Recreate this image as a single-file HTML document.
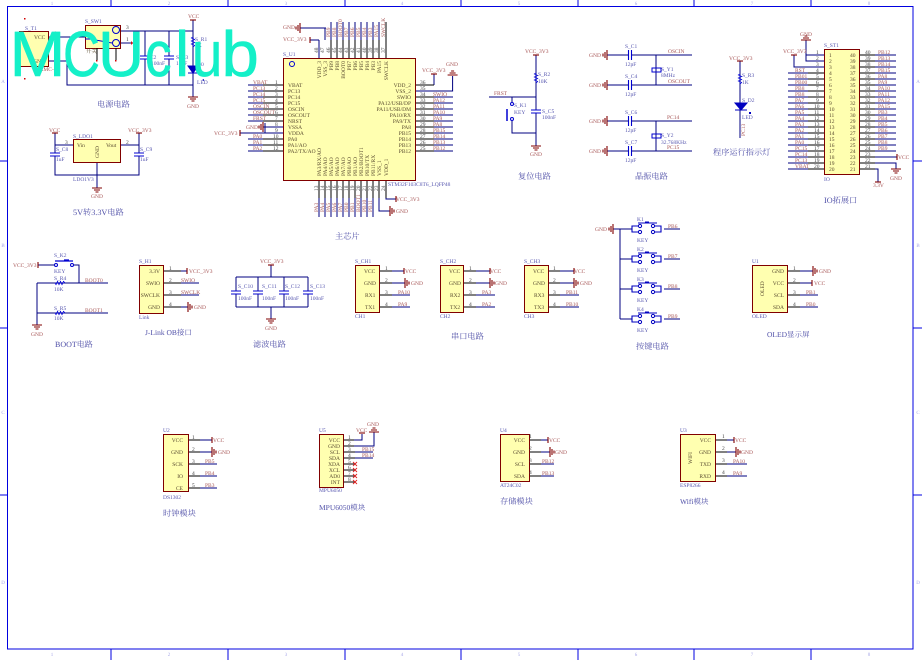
<!DOCTYPE html>
<html><head><meta charset="utf-8"><style>
html,body{margin:0;padding:0;background:#fff}
svg{display:block}
text{font-family:"Liberation Serif","Noto Serif CJK SC",serif;font-size:5.5px;text-rendering:geometricPrecision}
.n{fill:#a85858}.d{fill:#5858b0}.p{fill:#5a4c30}.k{fill:#484848}
.t{fill:#5050a8;font-size:8.2px}
.m{fill:#a8a8e8;font-size:5px;text-anchor:middle}
.e{text-anchor:end}
.box{fill:#ffffb0;stroke:#800000;stroke-width:1}
.w text{font-family:"Liberation Sans",sans-serif;font-size:64px;fill:#14f0c8;stroke:#14f0c8;stroke-width:.6px;stroke-linejoin:round}
</style></head><body>
<svg width="922" height="660" viewBox="0 0 922 660" xmlns="http://www.w3.org/2000/svg">
<defs>
<g id="gl" fill="none" stroke="#800000" stroke-width="1.1"><path d="M0,-5V5M-2,-3V3M-4,-1.5V1.5"/></g>
<g id="gr" fill="none" stroke="#800000" stroke-width="1.1"><path d="M0,-5V5M2,-3V3M4,-1.5V1.5"/></g>
<g id="gd" fill="none" stroke="#800000" stroke-width="1.1"><path d="M-5,0H5M-3,2H3M-1.5,4H1.5"/></g>
<g id="gu" fill="none" stroke="#800000" stroke-width="1.1"><path d="M-5,0H5M-3,-2H3M-1.5,-4H1.5"/></g>
<path id="tv" d="M-3,0H3" stroke="#800000" stroke-width="1.1"/>
<path id="th" d="M0,-3V3" stroke="#800000" stroke-width="1.1"/>
<g id="cv"><rect x="-5" y="0" width="10" height="3" fill="#fff"/><path d="M-5,0H5M-5,3H5" stroke="#0000d0" stroke-width="1.1"/></g>
<g id="ch"><rect x="0" y="-5" width="3" height="10" fill="#fff"/><path d="M0,-5V5M3,-5V5" stroke="#0000d0" stroke-width="1.1"/></g>
<path id="rv" d="M0,-5L-1.5,-4L1.5,-2.5L-1.5,-1L1.5,.5L-1.5,2L1.5,3.5L0,5" fill="#fff" stroke="#0000d0" stroke-width=".9"/>
<path id="rh" d="M-5,0L-4,1.5L-2.5,-1.5L-1,1.5L.5,-1.5L2,1.5L3.5,-1.5L5,0" fill="#fff" stroke="#0000d0" stroke-width=".9"/>
<g id="key" fill="none" stroke="#0000c0" stroke-width="1"><circle cx="0" cy="-3" r="1.6" fill="#fff"/><circle cx="13" cy="-3" r="1.6" fill="#fff"/><circle cx="0" cy="3" r="1.6" fill="#fff"/><circle cx="13" cy="3" r="1.6" fill="#fff"/><path d="M-2,-6H17M5,-7H9M-1.5,-3H-8V3H-1.5M14.5,-3H21V3H14.5" stroke-width="1.1"/></g>
<path id="x" d="M-2,-2L2,2M-2,2L2,-2" stroke="#e02020" stroke-width=".9"/>
</defs>

<!-- frame -->
<rect x="7.5" y="6.5" width="905.5" height="642.5" fill="none" stroke="#0000e0" stroke-width="1"/>
<path d="M111,0V6M228,0V6M345,0V6M461,0V6M578,0V6M694,0V6M811,0V6M111,649V660M228,649V660M345,649V660M461,649V660M578,649V660M694,649V660M811,649V660M0,161H7M0,328H7M0,495H7M913,161H922M913,328H922M913,495H922" stroke="#0000e0" stroke-width="1" fill="none"/>
<text class="m" x="52" y="5">1</text><text class="m" x="169" y="5">2</text><text class="m" x="286" y="5">3</text><text class="m" x="402" y="5">4</text><text class="m" x="519" y="5">5</text><text class="m" x="636" y="5">6</text><text class="m" x="752" y="5">7</text><text class="m" x="869" y="5">8</text>
<text class="m" x="52" y="656">1</text><text class="m" x="169" y="656">2</text><text class="m" x="286" y="656">3</text><text class="m" x="402" y="656">4</text><text class="m" x="519" y="656">5</text><text class="m" x="636" y="656">6</text><text class="m" x="752" y="656">7</text><text class="m" x="869" y="656">8</text>
<text class="m" x="3" y="83">A</text><text class="m" x="3" y="247">B</text><text class="m" x="3" y="414">C</text><text class="m" x="3" y="584">D</text>
<text class="m" x="918" y="83">A</text><text class="m" x="918" y="247">B</text><text class="m" x="918" y="414">C</text><text class="m" x="918" y="584">D</text>

<!-- wires -->
<path fill="none" stroke="#000080" stroke-width="1" d="
M48,37H85M48,61H67V85H193M120,31H193V97M120,43H133M145,31V85M169,31V85M193,20V31
M55,133V175H139V133M55,145H73M120,145H139M97,162V188
M326,28H300M319,40H310M319,22V22
M331,22V40M337,22V40M343,22V40M349,22V40M355,22V40M361,22V40M367,22V40M373,22V40M379,22V40M386,22V40
M319,40V58M325,28V40
M319,198V217M325,198V217M331,198V217M337,198V217M343,198V217M349,198V217M355,198V217M361,198V217M367,198V217M373,198V217
M379,198V211H390M386,198V199H396
M248,85H263M248,91H263M248,97H263M248,103H263M248,109H263M248,115H263M248,121H263M248,139H263M248,145H263M248,151H263
M434,97H453M434,103H453M434,109H453M434,115H453M434,121H453M434,127H453M434,133H453M434,139H453M434,145H453M434,151H453
M434,85V74M415,91H452.600V76M263,127H283M240,133H283M265,123V133
M536,55V146M489,97H536M512,97V102M512,121V133H536
M607,55H692M607,85H692M607,121H692M607,151H692M656,55V85M656,121V151
M740,61V138
M806,40V61H824M806,55H824M794,55V67H824
M788,73H808M788,79H808M788,85H808M788,91H808M788,97H808M788,103H808M788,109H808M788,115H808M788,121H808M788,127H808M788,133H808M788,139H808M788,145H808M788,151H808M788,157H808M788,163H808M788,169H808
M875,55H896M875,61H896M875,67H896M875,73H896M875,79H896M875,85H896M875,91H896M875,97H896M875,103H896M875,109H896M875,115H896M875,121H896M875,127H896M875,133H896M875,139H896M875,145H896M875,151H896
M875,157H897M875,163H896V169M875,169H878V182
M38,265H55M73,265H79V283M37,283H108M37,313H108M37,283V325
M181,283H199M181,295H199M181,271H187M181,307H188
M236,277H308M236,307H308M236,277V307M258,277V307M284,277V307M308,277V307M271,265V277M271,307V319
M392,295H410M392,307H410M476,295H495M476,307H495M560,295H579M560,307H579
M392,271H404M392,283H405M476,271H490M476,283H490M560,271H574M560,283H574
M620,229V319M613,229H632M620,259H632M620,289H632M620,319H632M664,229H680M664,259H680M664,289H680M664,319H680
M800,295H818M800,307H818M800,271H813M800,283H812
M200,464H217M200,476H217M200,488H217M200,440H212M200,452H212
M355,452H373M355,458H373M354,440H362V434M354,446H374V432
M541,464H554M541,476H554M541,440H548M541,452H550
M727,464H747M727,476H747M727,440H734M727,452H736
"/>
<!-- pins -->
<path fill="none" stroke="#000" stroke-width="1" d="
M263,85H283M263,91H283M263,97H283M263,103H283M263,109H283M263,115H283M263,121H283M263,139H283M263,145H283M263,151H283
M415,85H434M415,97H434M415,103H434M415,109H434M415,115H434M415,121H434M415,127H434M415,133H434M415,139H434M415,145H434M415,151H434
M331,40V58M337,40V58M343,40V58M349,40V58M355,40V58M361,40V58M367,40V58M373,40V58M379,40V58M386,22V58
M319,180V198M325,180V198M331,180V198M337,180V198M343,180V198M349,180V198M355,180V198M361,180V198M367,180V198M373,180V198M379,180V198M386,180V198
M808,73H824M808,79H824M808,85H824M808,91H824M808,97H824M808,103H824M808,109H824M808,115H824M808,121H824M808,127H824M808,133H824M808,139H824M808,145H824M808,151H824M808,157H824M808,163H824M808,169H824
M859,55H875M859,61H875M859,67H875M859,73H875M859,79H875M859,85H875M859,91H875M859,97H875M859,103H875M859,109H875M859,115H875M859,121H875M859,127H875M859,133H875M859,139H875M859,145H875M859,151H875M859,157H875M859,163H875M859,169H875
M163,271H181M163,283H181M163,295H181M163,307H181
M379,271H392M379,283H392M379,295H392M379,307H392
M463,271H476M463,283H476M463,295H476M463,307H476
M548,271H560M548,283H560M548,295H560M548,307H560
M787,271H800M787,283H800M787,295H800M787,307H800
M188,440H200M188,452H200M188,464H200M188,476H200M188,488H200
M343,440H354M343,446H354M343,452H355M343,458H355M343,464H355M343,470H355M343,476H355M343,482H355
M529,440H541M529,452H541M529,464H541M529,476H541
M715,440H727M715,452H727M715,464H727M715,476H727
M97,48V60M116,48V60
"/>

<!-- boxes -->
<rect class="box" x="19.500" y="31.500" width="29" height="35"/>
<rect class="box" x="85.500" y="25.500" width="35" height="23"/>
<rect class="box" x="73.500" y="139.500" width="47" height="23"/>
<rect class="box" x="283.500" y="58.500" width="132" height="122"/>
<rect class="box" x="824.500" y="49.500" width="35" height="125"/>
<rect class="box" x="139.500" y="265.500" width="24" height="48"/>
<rect class="box" x="355.500" y="265.500" width="24" height="47"/>
<rect class="box" x="440.500" y="265.500" width="23" height="47"/>
<rect class="box" x="524.500" y="265.500" width="24" height="47"/>
<rect class="box" x="752.500" y="265.500" width="35" height="47"/>
<rect class="box" x="163.500" y="434.500" width="25" height="57"/>
<rect class="box" x="319.500" y="434.500" width="24" height="53"/>
<rect class="box" x="500.500" y="434.500" width="29" height="47"/>
<rect class="box" x="680.500" y="434.500" width="35" height="47"/>

<!-- symbols -->
<g fill="none" stroke="#0000d0" stroke-width="1">
<circle cx="116" cy="30" r="3.500"/><circle cx="116" cy="43" r="3.500"/><path d="M85,39H90L112,43M89,38L92,40"/>
<circle cx="292" cy="64" r="2.500"/>
<circle cx="512" cy="104" r="1.500"/><circle cx="512" cy="119" r="1.500"/><path d="M507,109V121" stroke-width="1.500"/>
<circle cx="56" cy="265" r="1.500"/><circle cx="72" cy="265" r="1.500"/><path d="M55,261H73M64,260H69" stroke-width="1.300"/>
<rect x="652" y="68" width="9" height="4"/><rect x="652" y="134" width="9" height="4"/>
</g>
<path d="M97,48V60M116,48V60" stroke="#000" stroke-width="1"/>
<path d="M133,43l-2,-2v4z" fill="#d01010"/>
<path d="M188,66H198L193,73zM188,73H198" fill="#0000c0" stroke="#0000c0" stroke-width="1"/>
<path d="M735,103H747L741,110zM735,110H747" fill="#0000c0" stroke="#0000c0" stroke-width="1"/>
<path d="M202,80l2,-1v2zM749,112h2v2h-2z" fill="#0000c0"/>
<g fill="#d00000"><rect x="24" y="18" width="1.500" height="1.500"/><rect x="24" y="78" width="1.500" height="1.500"/><rect x="96" y="60" width="1.500" height="1.500"/><rect x="115" y="60" width="1.500" height="1.500"/></g>

<use href="#rv" x="193" y="42"/><use href="#cv" x="145" y="56"/><use href="#cv" x="169" y="56"/><use href="#gd" x="193" y="97"/>
<use href="#tv" x="193" y="20"/>
<use href="#tv" x="55" y="133"/><use href="#tv" x="139" y="133"/><use href="#cv" x="55" y="153"/><use href="#cv" x="139" y="153"/><use href="#gd" x="97" y="188"/>
<use href="#gl" x="300" y="28"/><use href="#th" x="310" y="40"/><use href="#gl" x="263" y="127"/><use href="#th" x="240" y="133"/>
<use href="#tv" x="434" y="74"/><use href="#gu" x="452.600" y="75"/><use href="#gr" x="390" y="211"/><use href="#th" x="396" y="199"/>
<use href="#tv" x="536" y="55"/><use href="#rv" x="536" y="78"/><use href="#cv" x="536" y="110"/><use href="#gd" x="536" y="146"/>
<use href="#gl" x="607" y="55"/><use href="#gl" x="607" y="85"/><use href="#gl" x="607" y="121"/><use href="#gl" x="607" y="151"/>
<use href="#ch" x="628.500" y="55"/><use href="#ch" x="628.500" y="85"/><use href="#ch" x="628.500" y="121"/><use href="#ch" x="628.500" y="151"/>
<use href="#tv" x="740" y="61"/><use href="#rv" x="740" y="79"/>
<use href="#gu" x="806" y="40"/><use href="#tv" x="794" y="55"/><use href="#th" x="897" y="157"/><use href="#gd" x="896" y="169"/><use href="#tv" x="878" y="182"/>
<use href="#th" x="38" y="265"/><use href="#rh" x="60" y="283"/><use href="#rh" x="60" y="313"/><use href="#gd" x="37" y="325"/>
<use href="#th" x="187" y="271"/><use href="#gr" x="188" y="307"/>
<use href="#tv" x="271" y="265"/><use href="#gd" x="271" y="319"/><use href="#cv" x="236" y="291"/><use href="#cv" x="258" y="291"/><use href="#cv" x="284" y="291"/><use href="#cv" x="308" y="291"/>
<use href="#th" x="404" y="271"/><use href="#gr" x="405" y="283"/>
<use href="#th" x="490" y="271"/><use href="#gr" x="490" y="283"/>
<use href="#th" x="574" y="271"/><use href="#gr" x="574" y="283"/>
<use href="#gl" x="613" y="229"/><use href="#key" x="640" y="229"/><use href="#key" x="640" y="259"/><use href="#key" x="640" y="289"/><use href="#key" x="640" y="319"/>
<use href="#gr" x="813" y="271"/><use href="#th" x="812" y="283"/>
<use href="#th" x="212" y="440"/><use href="#gr" x="212" y="452"/>
<use href="#tv" x="362" y="433"/><use href="#gu" x="374" y="432"/>
<use href="#x" x="355" y="464"/><use href="#x" x="355" y="470"/><use href="#x" x="355" y="476"/><use href="#x" x="355" y="482"/>
<use href="#th" x="548" y="440"/><use href="#gr" x="550" y="452"/>
<use href="#th" x="734" y="440"/><use href="#gr" x="736" y="452"/>

<!-- power -->
<text class="d" x="25" y="30">S_T1</text><text class="p" x="34" y="39">VCC</text><text class="p" x="33" y="63">GND</text><text class="n" x="33" y="71">TERMC-2P</text>
<text class="k" x="54" y="35">1</text><text class="k" x="78" y="35">2</text>
<text class="d" x="85" y="23">S_SW1</text><text class="p" x="86" y="53">开关</text><text class="k" x="126" y="29">3</text><text class="k" x="126" y="41">1</text>
<text class="n" x="188" y="18">VCC</text><text class="d" x="195" y="41">S_R1</text><text class="d" x="195" y="47">1K</text><text class="d" x="197" y="66">D0</text><text class="d" x="197" y="84">LED</text>
<text class="n" x="187" y="108">GND</text>
<text class="d" x="150" y="59">C2</text><text class="d" x="151" y="65">100nF</text><text class="d" x="176" y="59">S_C3</text><text class="d" x="176" y="65">10uF</text>
<text class="t" x="97" y="107">电源电路</text>
<!-- LDO -->
<text class="n" x="49" y="132">VCC</text><text class="n" x="128" y="132">VCC_3V3</text><text class="d" x="73" y="138">S_LDO1</text>
<text class="p" x="77" y="147">Vin</text><text class="p" x="106" y="147">Vout</text><text class="p" transform="rotate(-90 99 158)" x="99" y="158">GND</text>
<text class="k" x="65" y="144">3</text><text class="k" x="126" y="144">2</text>
<text class="d" x="56" y="151">S_C8</text><text class="d" x="56" y="161">1uF</text><text class="d" x="140" y="151">S_C9</text><text class="d" x="140" y="161">1uF</text>
<text class="d" x="73" y="181">LDO1V3</text><text class="n" x="91" y="198">GND</text>
<text class="t" x="73" y="215">5V转3.3V电路</text>

<!-- MCU left -->
<text class="d" x="283" y="56">S_U1</text>
<text class="n" x="253" y="84">VBAT</text><text class="n" x="253" y="90">PC13</text><text class="n" x="253" y="96">PC14</text><text class="n" x="253" y="102">PC15</text><text class="n" x="253" y="108">OSCIN</text><text class="n" x="253" y="114">OSCOUT</text><text class="n" x="253" y="120">FRST</text><text class="n" x="246" y="129">GND</text><text class="n" x="214" y="135">VCC_3V3</text><text class="n" x="253" y="138">PA0</text><text class="n" x="253" y="144">PA1</text><text class="n" x="253" y="150">PA2</text>
<g class="k"><text x="275" y="84">1</text><text x="275" y="90">2</text><text x="275" y="96">3</text><text x="275" y="102">4</text><text x="275" y="108">5</text><text x="275" y="114">6</text><text x="275" y="120">7</text><text x="275" y="126">8</text><text x="275" y="132">9</text><text x="273" y="138">10</text><text x="273" y="144">11</text><text x="273" y="150">12</text></g>
<g class="p"><text x="288" y="87">VBAT</text><text x="288" y="93">PC13</text><text x="288" y="99">PC14</text><text x="288" y="105">PC15</text><text x="288" y="111">OSCIN</text><text x="288" y="117">OSCOUT</text><text x="288" y="123">NRST</text><text x="288" y="129">VSSA</text><text x="288" y="135">VDDA</text><text x="288" y="141">PA0</text><text x="288" y="147">PA1/AO</text><text x="288" y="153">PA2/TX/AO</text></g>
<!-- MCU right -->
<g class="p"><text class="e" x="411" y="87">VDD_2</text><text class="e" x="411" y="93">VSS_2</text><text class="e" x="411" y="99">SWIO</text><text class="e" x="411" y="105">PA12/USB/DP</text><text class="e" x="411" y="111">PA11/USB/DM</text><text class="e" x="411" y="117">PA10/RX</text><text class="e" x="411" y="123">PA9/TX</text><text class="e" x="411" y="129">PA8</text><text class="e" x="411" y="135">PB15</text><text class="e" x="411" y="141">PB14</text><text class="e" x="411" y="147">PB13</text><text class="e" x="411" y="153">PB12</text></g>
<g class="k"><text x="420" y="84">36</text><text x="420" y="90">35</text><text x="420" y="96">34</text><text x="420" y="102">33</text><text x="420" y="108">32</text><text x="420" y="114">31</text><text x="420" y="120">30</text><text x="420" y="126">29</text><text x="420" y="132">28</text><text x="420" y="138">27</text><text x="420" y="144">26</text><text x="420" y="150">25</text></g>
<g class="n"><text x="433" y="96">SWIO</text><text x="433" y="102">PA12</text><text x="433" y="108">PA11</text><text x="433" y="114">PA10</text><text x="433" y="120">PA9</text><text x="433" y="126">PA8</text><text x="433" y="132">PB15</text><text x="433" y="138">PB14</text><text x="433" y="144">PB13</text><text x="433" y="150">PB12</text>
<text x="422" y="72">VCC_3V3</text><text x="446" y="66">GND</text><text x="283" y="29">GND</text><text x="283" y="41">VCC_3V3</text><text x="396" y="201">VCC_3V3</text><text x="396" y="213">GND</text></g>
<text class="d" x="388" y="186">STM32F103C8T6_LQFP48</text>
<!-- MCU top inner -->
<g class="p">
<text transform="rotate(-90 321 61)" x="321" y="61" text-anchor="end">VDD_3</text><text transform="rotate(-90 327 61)" x="327" y="61" text-anchor="end">VSS_3</text><text transform="rotate(-90 333 61)" x="333" y="61" text-anchor="end">PB9</text><text transform="rotate(-90 339 61)" x="339" y="61" text-anchor="end">PB8</text><text transform="rotate(-90 345 61)" x="345" y="61" text-anchor="end">BOOT0</text><text transform="rotate(-90 351 61)" x="351" y="61" text-anchor="end">PB7</text><text transform="rotate(-90 357 61)" x="357" y="61" text-anchor="end">PB6</text><text transform="rotate(-90 363 61)" x="363" y="61" text-anchor="end">PB5</text><text transform="rotate(-90 369 61)" x="369" y="61" text-anchor="end">PB4</text><text transform="rotate(-90 375 61)" x="375" y="61" text-anchor="end">PB3</text><text transform="rotate(-90 381 61)" x="381" y="61" text-anchor="end">PA15</text><text transform="rotate(-90 388 61)" x="388" y="61" text-anchor="end">SWCLK</text>
<text transform="rotate(-90 321 176)" x="321" y="176">PA3/RX/AO</text><text transform="rotate(-90 327 176)" x="327" y="176">PA4/AO</text><text transform="rotate(-90 333 176)" x="333" y="176">PA5/AO</text><text transform="rotate(-90 339 176)" x="339" y="176">PA6/AO</text><text transform="rotate(-90 345 176)" x="345" y="176">PA7/AO</text><text transform="rotate(-90 351 176)" x="351" y="176">PB0/AO</text><text transform="rotate(-90 357 176)" x="357" y="176">PB1/AO</text><text transform="rotate(-90 363 176)" x="363" y="176">PB2/BOOT1</text><text transform="rotate(-90 369 176)" x="369" y="176">PB10/TX</text><text transform="rotate(-90 375 176)" x="375" y="176">PB11/RX</text><text transform="rotate(-90 381 176)" x="381" y="176">VSS_1</text><text transform="rotate(-90 388 176)" x="388" y="176">VDD_1</text>
</g>
<g class="n">
<text transform="rotate(-90 330 37)" x="330" y="37">PB9</text><text transform="rotate(-90 336 37)" x="336" y="37">PB8</text><text transform="rotate(-90 342 37)" x="342" y="37">BOOT0</text><text transform="rotate(-90 348 37)" x="348" y="37">PB7</text><text transform="rotate(-90 354 37)" x="354" y="37">PB6</text><text transform="rotate(-90 360 37)" x="360" y="37">PB5</text><text transform="rotate(-90 366 37)" x="366" y="37">PB4</text><text transform="rotate(-90 372 37)" x="372" y="37">PB3</text><text transform="rotate(-90 378 37)" x="378" y="37">PA15</text><text transform="rotate(-90 385 37)" x="385" y="37">SWCLK</text>
<text transform="rotate(-90 318 212)" x="318" y="212">PA3</text><text transform="rotate(-90 324 212)" x="324" y="212">PA4</text><text transform="rotate(-90 330 212)" x="330" y="212">PA5</text><text transform="rotate(-90 336 212)" x="336" y="212">PA6</text><text transform="rotate(-90 342 212)" x="342" y="212">PA7</text><text transform="rotate(-90 348 212)" x="348" y="212">PB0</text><text transform="rotate(-90 354 212)" x="354" y="212">PB1</text><text transform="rotate(-90 360 212)" x="360" y="212">BOOT1</text><text transform="rotate(-90 366 212)" x="366" y="212">PB10</text><text transform="rotate(-90 372 212)" x="372" y="212">PB11</text>
</g>
<g class="k">
<text transform="rotate(-90 318 53)" x="318" y="53">48</text><text transform="rotate(-90 324 53)" x="324" y="53">47</text><text transform="rotate(-90 330 53)" x="330" y="53">46</text><text transform="rotate(-90 336 53)" x="336" y="53">45</text><text transform="rotate(-90 342 53)" x="342" y="53">44</text><text transform="rotate(-90 348 53)" x="348" y="53">43</text><text transform="rotate(-90 354 53)" x="354" y="53">42</text><text transform="rotate(-90 360 53)" x="360" y="53">41</text><text transform="rotate(-90 366 53)" x="366" y="53">40</text><text transform="rotate(-90 372 53)" x="372" y="53">39</text><text transform="rotate(-90 378 53)" x="378" y="53">38</text><text transform="rotate(-90 385 53)" x="385" y="53">37</text>
<text transform="rotate(-90 318 191)" x="318" y="191">13</text><text transform="rotate(-90 324 191)" x="324" y="191">14</text><text transform="rotate(-90 330 191)" x="330" y="191">15</text><text transform="rotate(-90 336 191)" x="336" y="191">16</text><text transform="rotate(-90 342 191)" x="342" y="191">17</text><text transform="rotate(-90 348 191)" x="348" y="191">18</text><text transform="rotate(-90 354 191)" x="354" y="191">19</text><text transform="rotate(-90 360 191)" x="360" y="191">20</text><text transform="rotate(-90 366 191)" x="366" y="191">21</text><text transform="rotate(-90 372 191)" x="372" y="191">22</text><text transform="rotate(-90 378 191)" x="378" y="191">23</text><text transform="rotate(-90 385 191)" x="385" y="191">24</text>
</g>
<text class="t" x="335" y="239">主芯片</text>

<!-- reset -->
<text class="n" x="525" y="53">VCC_3V3</text><text class="d" x="538" y="76">S_R2</text><text class="d" x="538" y="83">10K</text><text class="n" x="494" y="95">FRST</text><text class="d" x="514" y="107">S_K1</text><text class="d" x="514" y="114">KEY</text><text class="d" x="542" y="113">S_C5</text><text class="d" x="542" y="119">100nF</text><text class="n" x="530" y="156">GND</text>
<text class="t" x="518" y="179">复位电路</text>
<!-- crystal -->
<g class="n"><text x="589" y="57">GND</text><text x="589" y="87">GND</text><text x="589" y="123">GND</text><text x="589" y="153">GND</text><text x="668" y="53">OSCIN</text><text x="668" y="83">OSCOUT</text><text x="667" y="119">PC14</text><text x="667" y="149">PC15</text></g>
<g class="d"><text x="625" y="48">S_C1</text><text x="625" y="66">12pF</text><text x="625" y="78">S_C4</text><text x="625" y="96">12pF</text><text x="625" y="114">S_C6</text><text x="625" y="132">12pF</text><text x="625" y="144">S_C7</text><text x="625" y="162">12pF</text><text x="661" y="71">S_Y1</text><text x="661" y="77">8MHz</text><text x="661" y="137">S_Y2</text><text x="661" y="144">32.768KHz</text></g>
<text class="t" x="635" y="179">晶振电路</text>
<!-- LED -->
<text class="n" x="729" y="60">VCC_3V3</text><text class="d" x="742" y="77">S_R3</text><text class="d" x="742" y="84">1K</text><text class="d" x="742" y="102">S_D2</text><text class="d" x="742" y="119">LED</text><text class="n" transform="rotate(-90 745 136)" x="745" y="136">PC13</text>
<text class="t" x="713" y="155">程序运行指示灯</text>

<!-- IO -->
<text class="d" x="824" y="47">S_ST1</text><text class="d" x="824" y="181">IO</text><text class="n" x="800" y="36">GND</text><text class="n" x="783" y="53">VCC_3V3</text>
<g class="p"><text x="829" y="57">1</text><text x="829" y="63">2</text><text x="829" y="69">3</text><text x="829" y="75">4</text><text x="829" y="81">5</text><text x="829" y="87">6</text><text x="829" y="93">7</text><text x="829" y="99">8</text><text x="829" y="105">9</text><text x="829" y="111">10</text><text x="829" y="117">11</text><text x="829" y="123">12</text><text x="829" y="129">13</text><text x="829" y="135">14</text><text x="829" y="141">15</text><text x="829" y="147">16</text><text x="829" y="153">17</text><text x="829" y="159">18</text><text x="829" y="165">19</text><text x="829" y="171">20</text>
<text x="850" y="57">40</text><text x="850" y="63">39</text><text x="850" y="69">38</text><text x="850" y="75">37</text><text x="850" y="81">36</text><text x="850" y="87">35</text><text x="850" y="93">34</text><text x="850" y="99">33</text><text x="850" y="105">32</text><text x="850" y="111">31</text><text x="850" y="117">30</text><text x="850" y="123">29</text><text x="850" y="129">28</text><text x="850" y="135">27</text><text x="850" y="141">26</text><text x="850" y="147">25</text><text x="850" y="153">24</text><text x="850" y="159">23</text><text x="850" y="165">22</text><text x="850" y="171">21</text></g>
<g class="k"><text x="816" y="54">1</text><text x="816" y="60">2</text><text x="816" y="66">3</text><text x="816" y="72">4</text><text x="816" y="78">5</text><text x="816" y="84">6</text><text x="816" y="90">7</text><text x="816" y="96">8</text><text x="816" y="102">9</text><text x="814" y="108">10</text><text x="814" y="114">11</text><text x="814" y="120">12</text><text x="814" y="126">13</text><text x="814" y="132">14</text><text x="814" y="138">15</text><text x="814" y="144">16</text><text x="814" y="150">17</text><text x="814" y="156">18</text><text x="814" y="162">19</text><text x="814" y="168">20</text>
<text x="865" y="54">40</text><text x="865" y="60">39</text><text x="865" y="66">38</text><text x="865" y="72">37</text><text x="865" y="78">36</text><text x="865" y="84">35</text><text x="865" y="90">34</text><text x="865" y="96">33</text><text x="865" y="102">32</text><text x="865" y="108">31</text><text x="865" y="114">30</text><text x="865" y="120">29</text><text x="865" y="126">28</text><text x="865" y="132">27</text><text x="865" y="138">26</text><text x="865" y="144">25</text><text x="865" y="150">24</text><text x="865" y="156">23</text><text x="865" y="162">22</text><text x="865" y="168">21</text></g>
<g class="n"><text x="795" y="72">RST</text><text x="795" y="78">PB01</text><text x="795" y="84">PB00</text><text x="795" y="90">PB8</text><text x="795" y="96">PB8</text><text x="795" y="102">PA7</text><text x="795" y="108">PA6</text><text x="795" y="114">PA5</text><text x="795" y="120">PA4</text><text x="795" y="126">PA3</text><text x="795" y="132">PA2</text><text x="795" y="138">PA1</text><text x="795" y="144">PA0</text><text x="795" y="150">PC15</text><text x="795" y="156">PC14</text><text x="795" y="162">PC13</text><text x="795" y="168">VBAT</text>
<text x="878" y="54">PB12</text><text x="878" y="60">PB13</text><text x="878" y="66">PB14</text><text x="878" y="72">PB15</text><text x="878" y="78">PA8</text><text x="878" y="84">PA9</text><text x="878" y="90">PA10</text><text x="878" y="96">PA11</text><text x="878" y="102">PA12</text><text x="878" y="108">PA15</text><text x="878" y="114">PB3</text><text x="878" y="120">PB4</text><text x="878" y="126">PB5</text><text x="878" y="132">PB6</text><text x="878" y="138">PB7</text><text x="878" y="144">PB8</text><text x="878" y="150">PB9</text>
<text x="898" y="159">VCC</text><text x="890" y="180">GND</text><text x="873" y="187">3.3V</text></g>
<text class="t" x="824" y="203">IO拓展口</text>

<!-- BOOT -->
<text class="n" x="13" y="267">VCC_3V3</text><text class="d" x="54" y="257">S_K2</text><text class="d" x="54" y="273">KEY</text><text class="d" x="54" y="280">S_R4</text><text class="d" x="54" y="291">10K</text><text class="d" x="54" y="310">S_R5</text><text class="d" x="54" y="320">10K</text><text class="n" x="85" y="282">BOOT0</text><text class="n" x="85" y="312">BOOT1</text><text class="n" x="31" y="336">GND</text>
<text class="t" x="55" y="347" style="font-size:8px">BOOT电路</text>
<!-- JLINK -->
<text class="d" x="139" y="263">S_H1</text><text class="d" x="139" y="319">Link</text>
<g class="p"><text class="e" x="160" y="273">3.3V</text><text class="e" x="160" y="285">SWIO</text><text class="e" x="160" y="297">SWCLK</text><text class="e" x="160" y="309">GND</text></g>
<g class="k"><text x="169" y="270">1</text><text x="169" y="282">2</text><text x="169" y="294">3</text><text x="169" y="306">4</text></g>
<g class="n"><text x="189" y="273">VCC_3V3</text><text x="181" y="282">SWIO</text><text x="181" y="294">SWCLK</text><text x="194" y="309">GND</text></g>
<text class="t" x="145" y="335" style="font-size:7.500px">J-Link OB接口</text>
<!-- filter -->
<text class="n" x="260" y="263">VCC_3V3</text><text class="n" x="265" y="330">GND</text>
<g class="d"><text x="238" y="288">S_C10</text><text x="262" y="288">S_C11</text><text x="285" y="288">S_C12</text><text x="310" y="288">S_C13</text><text x="238" y="300">100nF</text><text x="262" y="300">100nF</text><text x="285" y="300">100nF</text><text x="310" y="300">100nF</text></g>
<text class="t" x="253" y="347">滤波电路</text>
<!-- serial -->
<text class="d" x="355" y="263">S_CH1</text><text class="d" x="355" y="318">CH1</text><text class="d" x="440" y="263">S_CH2</text><text class="d" x="440" y="318">CH2</text><text class="d" x="524" y="263">S_CH3</text><text class="d" x="524" y="318">CH3</text>
<g class="p"><text x="364" y="273">VCC</text><text x="364" y="285">GND</text><text x="365" y="297">RX1</text><text x="365" y="309">TX1</text><text x="449" y="273">VCC</text><text x="449" y="285">GND</text><text x="450" y="297">RX2</text><text x="450" y="309">TX2</text><text x="533" y="273">VCC</text><text x="533" y="285">GND</text><text x="534" y="297">RX3</text><text x="534" y="309">TX3</text></g>
<g class="k"><text x="385" y="270">1</text><text x="385" y="282">2</text><text x="385" y="294">3</text><text x="385" y="306">4</text><text x="469" y="270">1</text><text x="469" y="282">2</text><text x="469" y="294">3</text><text x="469" y="306">4</text><text x="553" y="270">1</text><text x="553" y="282">2</text><text x="553" y="294">3</text><text x="553" y="306">4</text></g>
<g class="n"><text x="405" y="273">VCC</text><text x="411" y="285">GND</text><text x="398" y="294">PA10</text><text x="398" y="306">PA9</text><text x="490" y="273">VCC</text><text x="495" y="285">GND</text><text x="482" y="294">PA3</text><text x="482" y="306">PA2</text><text x="574" y="273">VCC</text><text x="580" y="285">GND</text><text x="566" y="294">PB11</text><text x="566" y="306">PB10</text></g>
<text class="t" x="451" y="339">串口电路</text>
<!-- keys -->
<text class="n" x="595" y="231">GND</text>
<g class="d"><text x="637" y="221">K1</text><text x="637" y="242">KEY</text><text x="637" y="251">K2</text><text x="637" y="272">KEY</text><text x="637" y="281">K3</text><text x="637" y="302">KEY</text><text x="637" y="311">K4</text><text x="637" y="332">KEY</text></g>
<g class="n"><text x="668" y="228">PB6</text><text x="668" y="258">PB7</text><text x="668" y="288">PB8</text><text x="668" y="318">PB9</text></g>
<text class="t" x="636" y="349">按键电路</text>
<!-- OLED -->
<text class="d" x="752" y="263">U1</text><text class="d" x="752" y="318">OLED</text>
<g class="p"><text class="e" x="784" y="273">GND</text><text class="e" x="784" y="285">VCC</text><text class="e" x="784" y="297">SCL</text><text class="e" x="784" y="309">SDA</text><text transform="rotate(-90 764 296)" x="764" y="296">OLED</text></g>
<g class="k"><text x="793" y="270">1</text><text x="793" y="282">2</text><text x="793" y="294">3</text><text x="793" y="306">4</text></g>
<g class="n"><text x="819" y="273">GND</text><text x="814" y="285">VCC</text><text x="806" y="294">PB1</text><text x="806" y="306">PB0</text></g>
<text class="t" x="767" y="337" style="font-size:7.500px">OLED显示屏</text>
<!-- DS1302 -->
<text class="d" x="163" y="432">U2</text><text class="d" x="163" y="499">DS1302</text>
<g class="p"><text class="e" x="183" y="442">VCC</text><text class="e" x="183" y="454">GND</text><text class="e" x="183" y="466">SCK</text><text class="e" x="183" y="478">IO</text><text class="e" x="183" y="490">CE</text></g>
<g class="k"><text x="192" y="439">1</text><text x="192" y="451">2</text><text x="192" y="463">3</text><text x="192" y="475">4</text><text x="192" y="487">5</text></g>
<g class="n"><text x="213" y="442">VCC</text><text x="218" y="454">GND</text><text x="205" y="463">PB5</text><text x="205" y="475">PB4</text><text x="205" y="487">PB3</text></g>
<text class="t" x="163" y="516">时钟模块</text>
<!-- MPU -->
<text class="d" x="319" y="432">U5</text><text class="d" x="319" y="492">MPU6050</text>
<g class="p"><text class="e" x="340" y="442">VCC</text><text class="e" x="340" y="448">GND</text><text class="e" x="340" y="454">SCL</text><text class="e" x="340" y="460">SDA</text><text class="e" x="340" y="466">XDA</text><text class="e" x="340" y="472">XCL</text><text class="e" x="340" y="478">AD0</text><text class="e" x="340" y="484">INT</text></g>
<g class="k"><text x="348" y="439">1</text><text x="348" y="445">2</text><text x="348" y="451">3</text><text x="348" y="457">4</text><text x="348" y="463">5</text><text x="348" y="469">6</text><text x="348" y="475">7</text><text x="348" y="481">8</text></g>
<g class="n"><text x="356" y="432">VCC</text><text x="367" y="426">GND</text><text x="362" y="451">PB15</text><text x="362" y="457">PB14</text></g>
<text class="t" x="319" y="510" style="font-size:7.500px">MPU6050模块</text>
<!-- AT24 -->
<text class="d" x="500" y="432">U4</text><text class="d" x="500" y="487">AT24C02</text>
<g class="p"><text class="e" x="525" y="442">VCC</text><text class="e" x="525" y="454">GND</text><text class="e" x="525" y="466">SCL</text><text class="e" x="525" y="478">SDA</text></g>
<g class="k"><text x="529" y="438">1</text><text x="529" y="450">2</text><text x="529" y="462">3</text><text x="529" y="474">4</text></g>
<g class="n"><text x="549" y="442">VCC</text><text x="555" y="454">GND</text><text x="542" y="463">PB12</text><text x="542" y="475">PB13</text></g>
<text class="t" x="500" y="504">存储模块</text>
<!-- WIFI -->
<text class="d" x="680" y="432">U3</text><text class="d" x="680" y="487">ESP8266</text>
<g class="p"><text class="e" x="711" y="442">VCC</text><text class="e" x="711" y="454">GND</text><text class="e" x="711" y="466">TXD</text><text class="e" x="711" y="478">RXD</text><text transform="rotate(-90 692 464)" x="692" y="464">WIFI</text></g>
<g class="k"><text x="722" y="438">1</text><text x="722" y="450">2</text><text x="722" y="462">3</text><text x="722" y="474">4</text></g>
<g class="n"><text x="735" y="442">VCC</text><text x="741" y="454">GND</text><text x="733" y="463">PA10</text><text x="733" y="475">PA9</text></g>
<text class="t" x="680" y="504" style="font-size:7.500px">Wifi模块</text>

<!-- watermark -->
<g class="w"><title>MCUclub</title><text transform="translate(9.500 76) scale(1.05 1)">M</text><text transform="translate(63 76) scale(.8 1)">C</text><text transform="translate(98 76)">U</text><text transform="translate(145 76) scale(.83 1)">c</text><text transform="translate(175 76)">l</text><text transform="translate(192 76) scale(.85 1)">u</text><text transform="translate(221.500 76) scale(1.05 1)">b</text></g>
</svg>
</body></html>
